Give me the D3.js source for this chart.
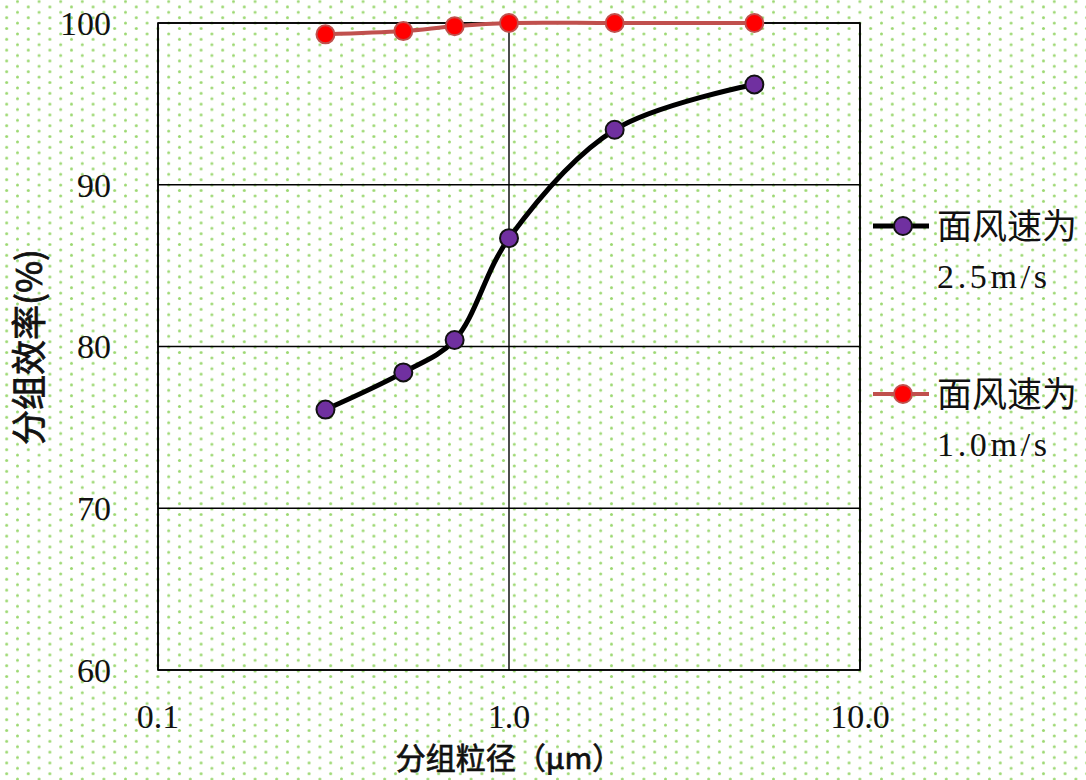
<!DOCTYPE html>
<html>
<head>
<meta charset="utf-8">
<script src="https://cdn.jsdelivr.net/npm/d3@7"></script>
<style>
  html, body { margin: 0; padding: 0; background: #fff; }
  svg { display: block; }
  text { font-family: "Liberation Serif", "Noto Sans CJK SC", serif; fill: #111; }
  .cjk { font-family: "Noto Sans CJK SC", sans-serif; }
</style>
</head>
<body>
<div id="chart"></div>
<script>
// particle size (um) per group
const sizes = [0.3, 0.5, 0.7, 1.0, 2.0, 5.0];
// grouped efficiency (%) at face velocity 2.5 m/s
const eff25 = [76.1, 78.4, 80.4, 86.7, 93.4, 96.2];
// grouped efficiency (%) at face velocity 1.0 m/s
const eff10 = [99.3, 99.5, 99.8, 100, 100, 100];

const xTicks = [0.1, 1, 10];
const yTicks = [60, 70, 80, 90, 100];

const series = [
  { name: ["面风速为", "2.5m/s"], values: eff25, line: "#000", lineWidth: 5, fill: "#7030a0", stroke: "#111" },
  { name: ["面风速为", "1.0m/s"], values: eff10, line: "#c0504d", lineWidth: 4, fill: "#ff0000", stroke: "#c0504d" },
];

const width = 1086;
const height = 780;
const margin = { top: 23, right: 226, bottom: 110, left: 158 };

const svg = d3.select("#chart")
  .append("svg")
  .attr("width", width)
  .attr("height", height);

/* dotted background */
const pat = svg.append("defs")
  .append("pattern")
  .attr("id", "dots")
  .attr("patternUnits", "userSpaceOnUse")
  .attr("x", 1.3)
  .attr("y", 1.5)
  .attr("width", 21.6)
  .attr("height", 10.8);
pat.append("circle").attr("cx", 5.4).attr("cy", 5.4).attr("r", 1.5).attr("fill", "#9cd872");
pat.append("circle").attr("cx", 16.2).attr("cy", 0).attr("r", 1.5).attr("fill", "#9cd872");
pat.append("circle").attr("cx", 16.2).attr("cy", 10.8).attr("r", 1.5).attr("fill", "#9cd872");

svg.append("rect")
  .attr("width", width)
  .attr("height", height)
  .attr("fill", "url(#dots)");

const x = d3.scaleLog()
  .domain([0.1, 10])
  .range([margin.left, width - margin.right]);

const y = d3.scaleLinear()
  .domain([60, 100])
  .range([height - margin.bottom, margin.top]);

/* Grid */
svg.append("g")
  .selectAll("line")
  .data(yTicks)
  .join("line")
  .attr("x1", x(0.1))
  .attr("x2", x(10))
  .attr("y1", (d) => y(d))
  .attr("y2", (d) => y(d))
  .attr("stroke", "#000")
  .attr("stroke-width", 1.4);

svg.append("g")
  .selectAll("line")
  .data(xTicks)
  .join("line")
  .attr("x1", (d) => x(d))
  .attr("x2", (d) => x(d))
  .attr("y1", y(60))
  .attr("y2", y(100))
  .attr("stroke", "#000")
  .attr("stroke-width", 1.4);

svg.append("rect")
  .attr("x", x(0.1))
  .attr("y", y(100))
  .attr("width", x(10) - x(0.1))
  .attr("height", y(60) - y(100))
  .attr("fill", "none")
  .attr("stroke", "#000")
  .attr("stroke-width", 1.6);

/* Axes labels */
svg.append("g")
  .selectAll("text")
  .data(yTicks)
  .join("text")
  .attr("x", 111)
  .attr("y", (d) => y(d))
  .attr("dy", "0.35em")
  .attr("text-anchor", "end")
  .attr("font-size", 34)
  .text((d) => d);

svg.append("g")
  .selectAll("text")
  .data(xTicks)
  .join("text")
  .attr("x", (d) => x(d))
  .attr("y", 728)
  .attr("text-anchor", "middle")
  .attr("font-size", 34)
  .text((d) => d3.format(".1f")(d));

svg.append("text")
  .attr("class", "cjk")
  .attr("x", 509)
  .attr("y", 769)
  .attr("text-anchor", "middle")
  .attr("font-size", 30)
  .attr("stroke", "#111")
  .attr("stroke-width", 0.7)
  .text("分组粒径（μm）");

svg.append("text")
  .attr("class", "cjk")
  .attr("transform", "translate(42,347) rotate(-90)")
  .attr("text-anchor", "middle")
  .attr("font-size", 35)
  .attr("stroke", "#111")
  .attr("stroke-width", 0.8)
  .text("分组效率(%)");

/* Lines */
const line = d3.line()
  .x((d) => x(d[0]))
  .y((d) => y(d[1]))
  .curve(d3.curveCatmullRom.alpha(0.5));

series.forEach((s) => {
  const pts = sizes.map((v, i) => [v, s.values[i]]);
  svg.append("path")
    .datum(pts)
    .attr("d", line)
    .attr("fill", "none")
    .attr("stroke", s.line)
    .attr("stroke-width", s.lineWidth)
    .attr("stroke-linejoin", "round");
  svg.append("g")
    .selectAll("circle")
    .data(pts)
    .join("circle")
    .attr("cx", (d) => x(d[0]))
    .attr("cy", (d) => y(d[1]))
    .attr("r", 9)
    .attr("fill", s.fill)
    .attr("stroke", s.stroke)
    .attr("stroke-width", 2);
});

/* Legend */
const legend = svg.append("g")
  .selectAll("g")
  .data(series)
  .join("g")
  .attr("transform", (d, i) => `translate(873,${226 + i * 168})`);

legend.append("line")
  .attr("x1", 0)
  .attr("x2", 56)
  .attr("stroke", (d) => d.line)
  .attr("stroke-width", (d) => d.lineWidth);

legend.append("circle")
  .attr("cx", 30)
  .attr("r", 9)
  .attr("fill", (d) => d.fill)
  .attr("stroke", (d) => d.stroke)
  .attr("stroke-width", 2);

legend.append("text")
  .attr("class", "cjk")
  .attr("x", 64)
  .attr("y", 0)
  .attr("dy", "0.36em")
  .attr("font-size", 35)
  .text((d) => d.name[0]);

legend.append("text")
  .attr("x", 64)
  .attr("y", 50)
  .attr("dy", "0.35em")
  .attr("font-size", 34)
  .attr("textLength", 110)
  .attr("lengthAdjust", "spacing")
  .text((d) => d.name[1]);
</script>
</body>
</html>
